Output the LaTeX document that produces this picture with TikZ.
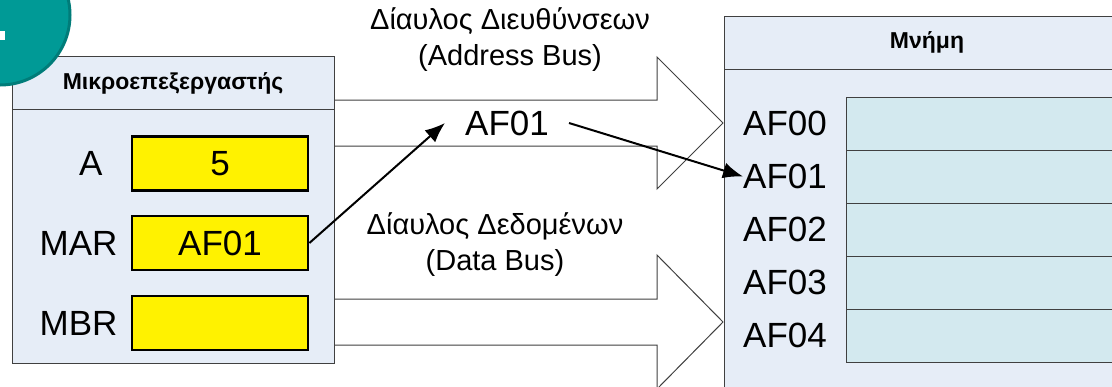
\documentclass[tikz,border=0pt]{standalone}
\usepackage{fontspec}
\setmainfont{Liberation Sans}
\usepackage{xcolor}
\usepackage{tikz}
\usetikzlibrary{positioning,arrows.meta}
\definecolor{boxbg}{HTML}{E6EDF7}
\definecolor{cellbg}{HTML}{D3E9EF}
\definecolor{boxline}{HTML}{404040}
\definecolor{tealfill}{HTML}{009A96}
\definecolor{tealline}{HTML}{007C79}
\tikzstyle{head} = [draw=boxline, fill=boxbg, minimum height=53pt, inner sep=0pt, outer sep=0pt, font=\fontsize{23}{27}\selectfont\bfseries]
\tikzstyle{body} = [draw=boxline, fill=boxbg, inner sep=0pt, outer sep=0pt]
\tikzstyle{reg} = [draw, line width=2.8pt, fill=yellow, minimum width=176pt, minimum height=54pt, inner sep=0pt, font=\fontsize{35}{40}\selectfont]
\tikzstyle{cell} = [draw=boxline, fill=cellbg, minimum width=300pt, minimum height=53pt, inner sep=0pt, outer sep=0pt]
\tikzstyle{big} = [inner sep=0pt, font=\fontsize{35}{40}\selectfont]
\tikzstyle{buslabel} = [align=center, font=\fontsize{29}{36}\selectfont]
\tikzstyle{bus} = [draw=boxline, fill=white, line width=1pt]
\tikzstyle{ptr} = [line width=2pt, -{Latex[length=20pt,width=16pt]}]

\begin{document}
\begin{tikzpicture}[x=1pt, y=-1pt]
		\useasboundingbox (0,0) rectangle (1112,386);
		\clip (0,0) rectangle (1112,386);
		
		\draw [bus] (334,100) -- (657,100) -- (657,57) -- (723,123) -- (657,189) -- (657,146) -- (334,146);
		\draw [bus] (334,299) -- (657,299) -- (657,255) -- (723,322) -- (657,389) -- (657,345) -- (334,345);
		
		\node [head, minimum width=322pt] (cpuhead) at (173,83) {Μικροεπεξεργαστής};
		\node [body, minimum width=322pt, minimum height=254pt, below=0pt of cpuhead] (cpu) {};
		\node [reg] (rega) at (220,163.5) {5};
		\node [reg] (regmar) at (220,243) {AF01};
		\node [reg] (regmbr) at (220,323) {};
		\node [big, left=28pt of rega] (la) {A};
		\node [big, left=13pt of regmar] (lmar) {MAR};
		\node [big, left=13pt of regmbr] (lmbr) {MBR};
		
		\draw [fill=tealfill, draw=tealline, line width=3pt] (0,15) circle (70pt);
		\fill [white] (0,31) rectangle (5,40);
		
		\node [head, minimum width=406pt, anchor=north west] (memhead) at (724,16) {Μνήμη};
		\node [body, minimum width=406pt, minimum height=340pt, below=0pt of memhead] (mem) {};
		\node [cell] (c0) at (996,123.5) {};
		\node [cell, below=0pt of c0] (c1) {};
		\node [cell, below=0pt of c1] (c2) {};
		\node [cell, below=0pt of c2] (c3) {};
		\node [cell, below=0pt of c3] (c4) {};
		\coordinate (lx) at (743,0);
		\node [big, anchor=west] (a0) at (c0.west -| lx) {AF00};
		\node [big, anchor=west] (a1) at (c1.west -| lx) {AF01};
		\node [big, anchor=west] (a2) at (c2.west -| lx) {AF02};
		\node [big, anchor=west] (a3) at (c3.west -| lx) {AF03};
		\node [big, anchor=west] (a4) at (c4.west -| lx) {AF04};
		
		\node [buslabel] (addrlbl) at (510,40) {Δίαυλος Διευθύνσεων\\(Address Bus)};
		\node [buslabel] (datalbl) at (495,245) {Δίαυλος Δεδομένων\\(Data Bus)};
		\node [big, inner xsep=20pt] (busaddr) at (507,123) {AF01};
		
		\draw [ptr] (regmar.east) -- (busaddr.west);
		\draw [ptr] (busaddr.east) -- (a1.west);
	\end{tikzpicture}
\end{document}
